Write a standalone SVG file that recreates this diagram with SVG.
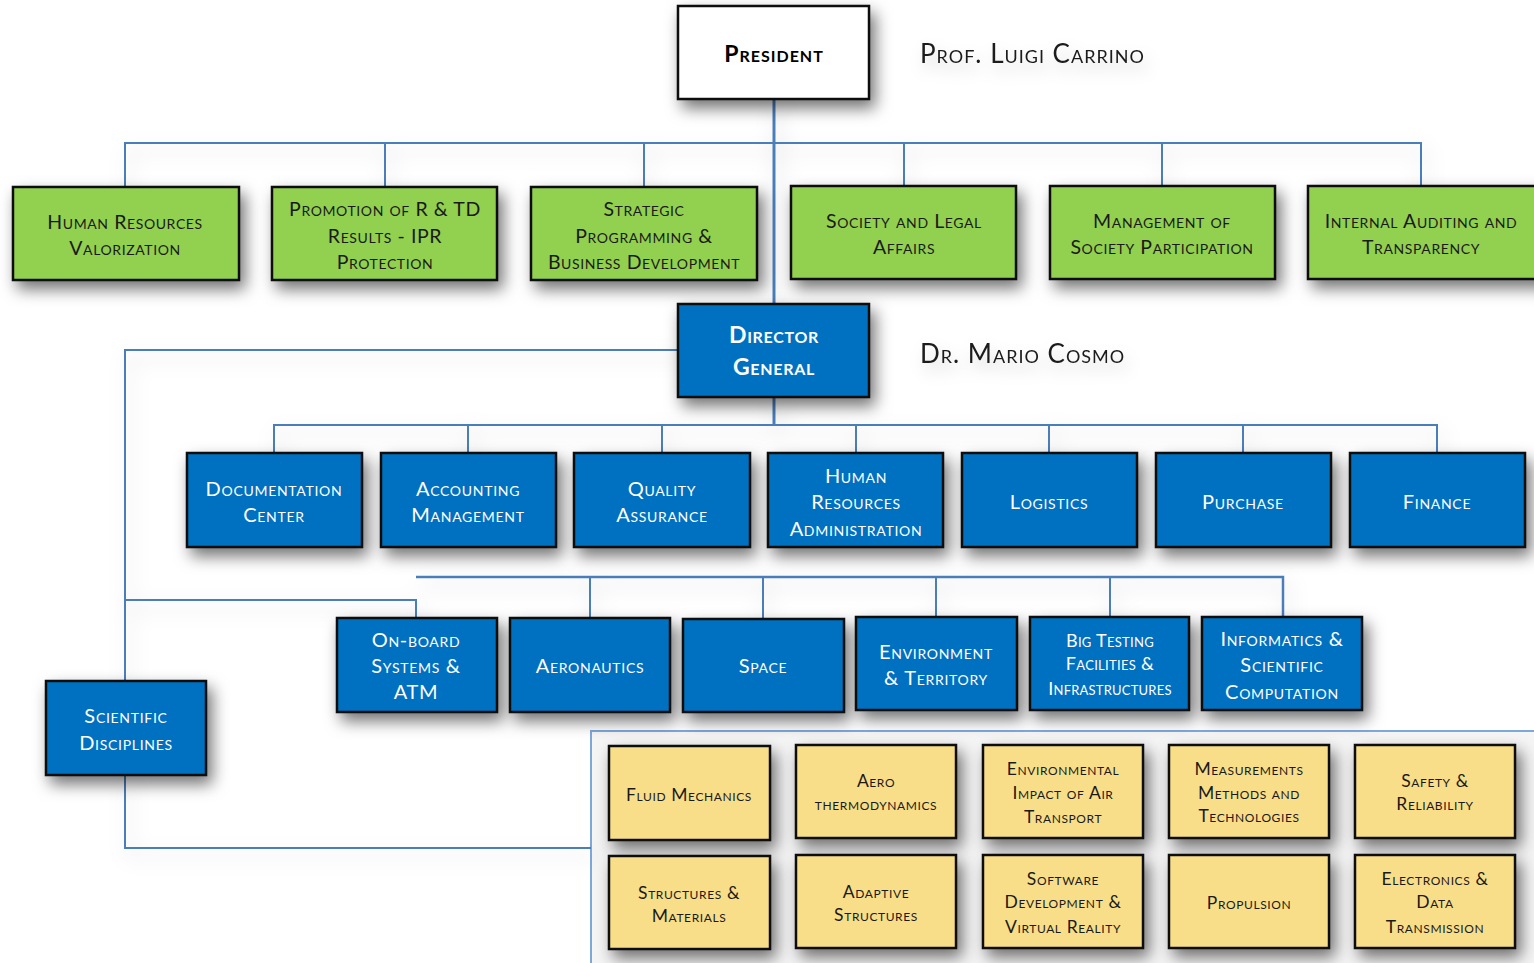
<svg xmlns="http://www.w3.org/2000/svg" width="1534" height="963" viewBox="0 0 1534 963">
<defs>
<filter id="sh" x="-30%" y="-30%" width="170%" height="180%">
<feDropShadow dx="5" dy="8" stdDeviation="8" flood-color="#000" flood-opacity="0.55"/>
</filter>
<filter id="lsh" x="-20%" y="-20%" width="140%" height="160%">
<feDropShadow dx="4" dy="8" stdDeviation="10" flood-color="#000" flood-opacity="0.2"/>
</filter>
<filter id="tsh" x="-20%" y="-50%" width="140%" height="250%">
<feDropShadow dx="4" dy="8" stdDeviation="8" flood-color="#000" flood-opacity="0.2"/>
</filter>
</defs>
<style>
text{font-family:Lato,"Open Sans","Liberation Sans",sans-serif;font-variant:small-caps;text-anchor:middle}
.g rect{fill:#92D050;stroke:#111;stroke-width:2.5}
.b rect{fill:#0070C0;stroke:#111;stroke-width:2.5}
.y rect{fill:#F9DE89;stroke:#111;stroke-width:2.5}
.w rect{fill:#fff;stroke:#111;stroke-width:2.5}
.g text{fill:#1a1a1a;font-size:19.5px;letter-spacing:0.6px}
.b text{fill:#fff;font-size:20px;letter-spacing:0.7px}
.y text{fill:#1a1a1a;font-size:17.5px;letter-spacing:0.6px}
.nm{fill:#1a1a1a;font-size:26px;text-anchor:start;letter-spacing:1px}
.bold{font-weight:bold;letter-spacing:1px}
.c path{fill:none;stroke:#4A7EBB;stroke-width:2}
</style>
<rect width="1534" height="963" fill="#fff"/>
<rect id="container" x="591" y="731" width="960" height="260" fill="#f5f5f5" stroke="#7FA8DA" stroke-width="2"/>
<g class="c" id="connectors" filter="url(#lsh)">
<path d="M774 99V304" style="stroke-width:3"/>
<path d="M125 187V143H1421V186"/>
<path d="M385 143V187M644 143V187M904 143V186M1162 143V186"/>
<path d="M678 350H125V681"/>
<path d="M125 600H416V618"/>
<path d="M774 397V425" style="stroke-width:3"/>
<path d="M274 453V425H1437V453"/>
<path d="M468 425V453M662 425V453M856 425V453M1049 425V453M1243 425V453"/>
<path d="M416 577H1283V618" style="stroke-width:2.5"/>
<path d="M590 577V618M763 577V618M936 577V617M1110 577V617"/>
<path d="M125 775V848H591"/>
</g>
<text class="nm" x="920" y="63" filter="url(#tsh)">Prof. Luigi Carrino</text>
<text class="nm" x="920" y="363" filter="url(#tsh)">Dr. Mario Cosmo</text>
<g id="president" class="w"><rect x="678" y="6" width="191" height="93" filter="url(#sh)"/><text class="bold" x="774" y="62" style="font-size:23px">President</text></g>
<g id="hr-valorization" class="g"><rect x="13" y="187" width="226" height="93" filter="url(#sh)"/><text x="125" y="229">Human Resources</text><text x="125" y="255">Valorization</text></g>
<g id="promotion" class="g"><rect x="272" y="187" width="225" height="93" filter="url(#sh)"/><text x="385" y="216">Promotion of R &amp; TD</text><text x="385" y="243">Results - IPR</text><text x="385" y="269">Protection</text></g>
<g id="strategic" class="g"><rect x="531" y="187" width="226" height="93" filter="url(#sh)"/><text x="644" y="216">Strategic</text><text x="644" y="243">Programming &amp;</text><text x="644" y="269">Business Development</text></g>
<g id="society-legal" class="g"><rect x="791" y="186" width="225" height="93" filter="url(#sh)"/><text x="904" y="228">Society and Legal</text><text x="904" y="254">Affairs</text></g>
<g id="society-participation" class="g"><rect x="1050" y="186" width="225" height="93" filter="url(#sh)"/><text x="1162" y="228">Management of</text><text x="1162" y="254">Society Participation</text></g>
<g id="auditing" class="g"><rect x="1308" y="186" width="240" height="93" filter="url(#sh)"/><text x="1421" y="228">Internal Auditing and</text><text x="1421" y="254">Transparency</text></g>
<g id="director-general" class="b"><rect x="678" y="304" width="191" height="93" filter="url(#sh)"/><text class="bold" x="774" y="343" style="font-size:23px">Director</text><text class="bold" x="774" y="375" style="font-size:23px">General</text></g>
<g id="documentation" class="b"><rect x="187" y="453" width="175" height="94" filter="url(#sh)"/><text x="274" y="496">Documentation</text><text x="274" y="522">Center</text></g>
<g id="accounting" class="b"><rect x="381" y="453" width="175" height="94" filter="url(#sh)"/><text x="468" y="496">Accounting</text><text x="468" y="522">Management</text></g>
<g id="quality" class="b"><rect x="574" y="453" width="176" height="94" filter="url(#sh)"/><text x="662" y="496">Quality</text><text x="662" y="522">Assurance</text></g>
<g id="hr-admin" class="b"><rect x="768" y="453" width="175" height="94" filter="url(#sh)"/><text x="856" y="483">Human</text><text x="856" y="509">Resources</text><text x="856" y="536">Administration</text></g>
<g id="logistics" class="b"><rect x="962" y="453" width="175" height="94" filter="url(#sh)"/><text x="1049" y="509">Logistics</text></g>
<g id="purchase" class="b"><rect x="1156" y="453" width="175" height="94" filter="url(#sh)"/><text x="1243" y="509">Purchase</text></g>
<g id="finance" class="b"><rect x="1350" y="453" width="175" height="94" filter="url(#sh)"/><text x="1437" y="509">Finance</text></g>
<g id="onboard" class="b"><rect x="337" y="618" width="160" height="94" filter="url(#sh)"/><text x="416" y="647">On-board</text><text x="416" y="673">Systems &amp;</text><text x="416" y="699">ATM</text></g>
<g id="aeronautics" class="b"><rect x="510" y="618" width="160" height="94" filter="url(#sh)"/><text x="590" y="673">Aeronautics</text></g>
<g id="space" class="b"><rect x="683" y="619" width="161" height="93" filter="url(#sh)"/><text x="763" y="673">Space</text></g>
<g id="environment" class="b"><rect x="856" y="617" width="161" height="93" filter="url(#sh)"/><text x="936" y="659">Environment</text><text x="936" y="685">&amp;  Territory</text></g>
<g id="big-testing" class="b"><rect x="1030" y="617" width="159" height="93" filter="url(#sh)"/><text x="1110" y="647" style="font-size:18px;letter-spacing:0.3px">Big Testing</text><text x="1110" y="670" style="font-size:18px;letter-spacing:0.3px">Facilities &amp;</text><text x="1110" y="695" style="font-size:18px;letter-spacing:0.2px">Infrastructures</text></g>
<g id="informatics" class="b"><rect x="1202" y="617" width="160" height="93" filter="url(#sh)"/><text x="1282" y="646">Informatics &amp;</text><text x="1282" y="672">Scientific</text><text x="1282" y="699">Computation</text></g>
<g id="scientific-disciplines" class="b"><rect x="46" y="681" width="160" height="94" filter="url(#sh)"/><text x="126" y="723">Scientific</text><text x="126" y="750">Disciplines</text></g>
<g id="fluid" class="y"><rect x="609" y="746" width="161" height="94" filter="url(#sh)"/><text x="689" y="801">Fluid Mechanics</text></g>
<g id="aerothermo" class="y"><rect x="796" y="745" width="160" height="93" filter="url(#sh)"/><text x="876" y="787">Aero</text><text x="876" y="810">thermodynamics</text></g>
<g id="env-impact" class="y"><rect x="983" y="745" width="160" height="93" filter="url(#sh)"/><text x="1063" y="775">Environmental</text><text x="1063" y="799">Impact of Air</text><text x="1063" y="823">Transport</text></g>
<g id="measurements" class="y"><rect x="1169" y="745" width="160" height="93" filter="url(#sh)"/><text x="1249" y="775">Measurements</text><text x="1249" y="799">Methods and</text><text x="1249" y="822">Technologies</text></g>
<g id="safety" class="y"><rect x="1355" y="745" width="160" height="93" filter="url(#sh)"/><text x="1435" y="787">Safety &amp;</text><text x="1435" y="810">Reliability</text></g>
<g id="structures" class="y"><rect x="609" y="856" width="161" height="93" filter="url(#sh)"/><text x="689" y="899">Structures &amp;</text><text x="689" y="922">Materials</text></g>
<g id="adaptive" class="y"><rect x="796" y="855" width="160" height="93" filter="url(#sh)"/><text x="876" y="898">Adaptive</text><text x="876" y="921">Structures</text></g>
<g id="software" class="y"><rect x="983" y="855" width="160" height="93" filter="url(#sh)"/><text x="1063" y="885">Software</text><text x="1063" y="908">Development &amp;</text><text x="1063" y="933">Virtual Reality</text></g>
<g id="propulsion" class="y"><rect x="1169" y="855" width="160" height="93" filter="url(#sh)"/><text x="1249" y="909">Propulsion</text></g>
<g id="electronics" class="y"><rect x="1355" y="855" width="160" height="93" filter="url(#sh)"/><text x="1435" y="885">Electronics &amp;</text><text x="1435" y="908">Data</text><text x="1435" y="933">Transmission</text></g>
</svg>
